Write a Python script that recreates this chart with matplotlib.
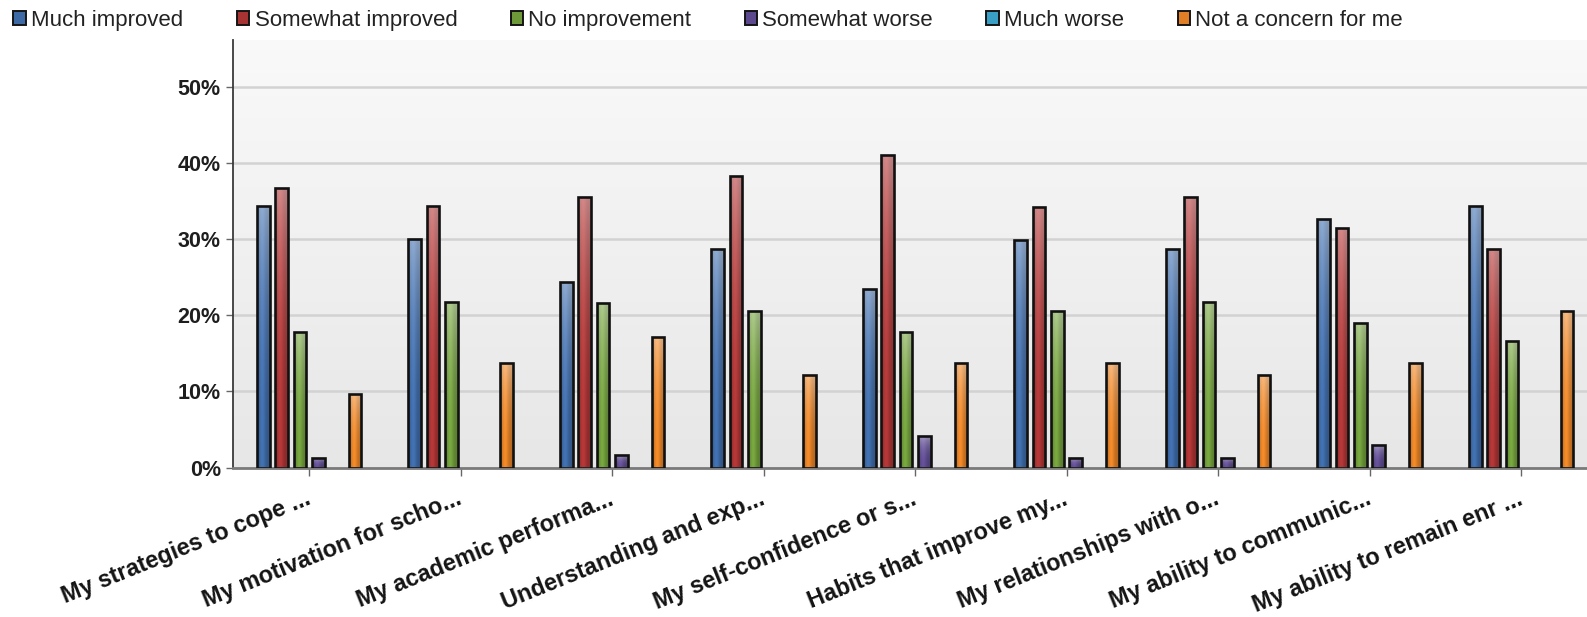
import numpy as np
import matplotlib
matplotlib.use("Agg")
import matplotlib.pyplot as plt
from matplotlib.patches import Patch
from matplotlib.colors import to_rgb
from matplotlib.transforms import ScaledTranslation

plt.rcParams['font.family'] = ['Liberation Sans', 'DejaVu Sans']

# Survey items (truncated as in the report export)
categories = [
    "My strategies to cope ...",
    "My motivation for scho...",
    "My academic performa...",
    "Understanding and exp...",
    "My self-confidence or s...",
    "Habits that improve my...",
    "My relationships with o...",
    "My ability to communic...",
    "My ability to remain enr ...",
]

series_names = ["Much improved", "Somewhat improved", "No improvement",
                "Somewhat worse", "Much worse", "Not a concern for me"]

# Percent of respondents per answer
much_improved     = [34.4, 30.0, 24.4, 28.7, 23.4, 29.9, 28.7, 32.7, 34.4]
somewhat_improved = [36.8, 34.4, 35.6, 38.3, 41.1, 34.3, 35.5, 31.5, 28.7]
no_improvement    = [17.8, 21.8, 21.6, 20.6, 17.8, 20.6, 21.8, 19.0, 16.6]
somewhat_worse    = [1.3, 0.0, 1.7, 0.0, 4.1, 1.3, 1.3, 3.0, 0.0]
much_worse        = [0.0, 0.0, 0.0, 0.0, 0.0, 0.0, 0.0, 0.0, 0.0]
not_a_concern     = [9.7, 13.8, 17.2, 12.2, 13.7, 13.7, 12.2, 13.7, 20.6]

yticks = [0, 10, 20, 30, 40, 50]

series_values = [much_improved, somewhat_improved, no_improvement,
                 somewhat_worse, much_worse, not_a_concern]
series_colors = ["#3d69a5", "#a83333", "#6e9a3a", "#5d4a8e", "#3a9fc4", "#e07f25"]

fig = plt.figure(figsize=(15.87, 6.17), dpi=100)
ax = fig.add_axes([0.147, 0.2423, 0.8592, 0.6929])

# soft vertical gradient behind the plot: near-white at the top, light grey below
bg = np.linspace(0.978, 0.905, 256).reshape(-1, 1)
bg_rgb = np.dstack([bg, bg, bg])
ax.imshow(bg_rgb, extent=(0, 1, 0, 1), transform=ax.transAxes,
          aspect='auto', zorder=-1, interpolation='bilinear')

n_groups = len(categories)
n_series = len(series_values)
x = np.arange(n_groups)
slot = 0.121
bar_w = 0.084


def shaded_image(base, nx=32, ny=128):
    c = np.array(to_rgb(base))
    xs = np.linspace(0, 1, nx)
    ts = np.linspace(0, 1, ny).reshape(-1, 1)
    shade = 0.82 + 0.28 * np.exp(-((xs - 0.4) / 0.26) ** 2)
    lift = 0.40 * ts ** 2.5
    img = np.clip(c[None, None, :] * shade[None, :, None], 0, 1)
    img = img * (1 - lift[..., None]) + lift[..., None]
    return img


for i, (vals, col) in enumerate(zip(series_values, series_colors)):
    offs = (i - (n_series - 1) / 2) * slot
    bars = ax.bar(x + offs, vals, width=bar_w, color=col,
                  edgecolor="#111111", linewidth=1.9, zorder=3)
    img = shaded_image(col)
    for p in bars:
        h = p.get_height()
        if h <= 0:
            p.set_visible(False)
            continue
        x0 = p.get_x()
        im = ax.imshow(img, extent=(x0, x0 + p.get_width(), 0, h),
                       origin='lower', aspect='auto', zorder=2.5,
                       interpolation='bilinear')
        im.set_clip_path(p)
        p.set_facecolor('none')

ax.set_xlim(-0.5, n_groups - 0.5)
ax.set_ylim(0, 56.2)

ax.set_yticks(yticks)
ax.set_yticklabels([f"{v}%" for v in yticks], fontsize=15.5, fontweight='bold',
                   color="#1e1e1e")
ax.yaxis.grid(True, color="#d2d2d2", linewidth=1.8)
ax.set_axisbelow(True)
ax.tick_params(axis='y', length=5, width=1, color="#666666", pad=4)

ax.set_xticks(x)
ax.set_xticklabels(categories, rotation=22, ha='right',
                   rotation_mode='anchor', fontsize=16.9, fontweight='bold',
                   color="#141414")
ax.tick_params(axis='x', length=6, width=1, color="#666666", pad=8.3)
shift = ScaledTranslation(-4 / 100, 0, fig.dpi_scale_trans)
for lbl in ax.get_xticklabels():
    lbl.set_transform(lbl.get_transform() + shift)

for s in ['top', 'right']:
    ax.spines[s].set_visible(False)
ax.spines['left'].set_color("#3a3a3a")
ax.spines['left'].set_linewidth(1.3)
ax.spines['bottom'].set_color("#7a7a7a")
ax.spines['bottom'].set_linewidth(2.0)

handles = [Patch(facecolor=c, edgecolor="#151515", linewidth=1.4)
           for c in series_colors]
fig.legend(handles, series_names, loc='upper left',
           bbox_to_anchor=(0.0085, 0.984), ncol=6, frameon=False,
           fontsize=16.0, handlelength=0.55, handleheight=0.55,
           handletextpad=0.25, columnspacing=2.4, borderpad=0,
           borderaxespad=0, labelcolor="#222222")

fig.savefig("out.png", dpi=100)
